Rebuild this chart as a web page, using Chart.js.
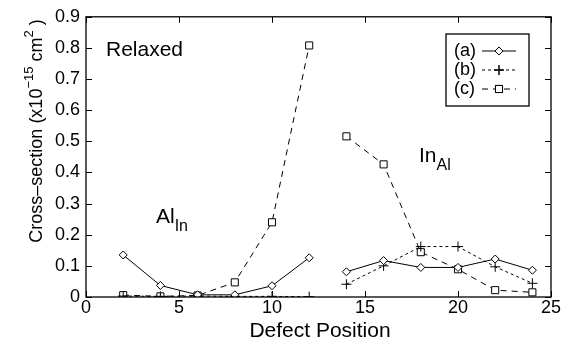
<!DOCTYPE html>
<html>
<head>
<meta charset="utf-8">
<script src="https://cdn.jsdelivr.net/npm/chart.js@4"></script>
<style>
  body { margin: 0; background: #fff; }
  #wrap { width: 572px; height: 345px; }
</style>
</head>
<body>
<div id="wrap"><canvas id="chart" width="572" height="345"></canvas></div>
<script>
// defect positions, null at 13 breaks the line between the two groups
var positions = [2, 4, 6, 8, 10, 12, 13, 14, 16, 18, 20, 22, 24];
var seriesA = [0.135, 0.037, 0.007, 0.007, 0.036, 0.126, null, 0.081, 0.117, 0.095, 0.095, 0.122, 0.086];
var seriesB = [0.003, 0.002, 0.003, 0.002, 0.002, 0.001, null, 0.041, 0.100, 0.162, 0.162, 0.097, 0.044];
var seriesC = [0.006, 0.002, 0.005, 0.047, 0.240, 0.808, null, 0.516, 0.426, 0.144, 0.089, 0.022, 0.015];
var seriesLabels = ['(a)', '(b)', '(c)'];
var xTicks = [0, 5, 10, 15, 20, 25];
var yTicks = [0, 0.1, 0.2, 0.3, 0.4, 0.5, 0.6, 0.7, 0.8, 0.9];

var FONT = '"Liberation Sans", Arial, sans-serif';

function toPoints(vals) {
  return positions.map(function(x, i) { return {x: x, y: vals[i]}; });
}

// ticks inside the frame on all four sides, plus the box itself
var framePlugin = {
  id: 'frame',
  afterDatasetsDraw: function(chart) {
    var ctx = chart.ctx, a = chart.chartArea;
    var xs = chart.scales.x, ys = chart.scales.y;
    ctx.save();
    ctx.strokeStyle = '#000';
    ctx.lineWidth = 1.3;
    ctx.strokeRect(a.left, a.top, a.right - a.left, a.bottom - a.top);
    ctx.lineWidth = 1;
    ctx.beginPath();
    xTicks.forEach(function(v) {
      var px = Math.round(xs.getPixelForValue(v)) + 0.5;
      ctx.moveTo(px, a.bottom); ctx.lineTo(px, a.bottom - 6);
      ctx.moveTo(px, a.top); ctx.lineTo(px, a.top + 6);
    });
    yTicks.forEach(function(v) {
      var py = Math.round(ys.getPixelForValue(v)) + 0.5;
      ctx.moveTo(a.left, py); ctx.lineTo(a.left + 6, py);
      ctx.moveTo(a.right, py); ctx.lineTo(a.right - 6, py);
    });
    ctx.stroke();
    ctx.restore();
  }
};

function subText(ctx, base, sub, x, y, size, subSize, drop) {
  ctx.font = size + 'px ' + FONT;
  ctx.fillText(base, x, y);
  var w = ctx.measureText(base).width;
  ctx.font = subSize + 'px ' + FONT;
  ctx.fillText(sub, x + w, y + drop);
}

// text labels, axis titles and the boxed legend
var textPlugin = {
  id: 'texts',
  afterDraw: function(chart) {
    var ctx = chart.ctx, a = chart.chartArea;
    ctx.save();
    ctx.fillStyle = '#000';
    ctx.textBaseline = 'alphabetic';

    ctx.font = '21px ' + FONT;
    ctx.fillText('Relaxed', 106, 56);

    subText(ctx, 'Al', 'In', 156, 223, 21, 16, 8);
    subText(ctx, 'In', 'Al', 419, 162, 21, 16, 8);

    // x axis title
    ctx.font = '21px ' + FONT;
    ctx.textAlign = 'center';
    ctx.fillText('Defect Position', 320, 337);
    ctx.textAlign = 'left';

    // y axis title
    ctx.translate(42, 131);
    ctx.rotate(-Math.PI / 2);
    var parts = [
      ['Cross\u2013section (x10', 18, 0],
      ['\u221215', 13, -9],
      [' cm', 18, 0],
      ['2', 13, -9],
      [' )', 18, 0]
    ];
    var total = 0;
    parts.forEach(function(p) { ctx.font = p[1] + 'px ' + FONT; total += ctx.measureText(p[0]).width; });
    var cx = -total / 2;
    parts.forEach(function(p) {
      ctx.font = p[1] + 'px ' + FONT;
      ctx.fillText(p[0], cx, p[2]);
      cx += ctx.measureText(p[0]).width;
    });
    ctx.restore();

    // legend
    ctx.save();
    ctx.strokeStyle = '#000';
    ctx.lineWidth = 1.3;
    ctx.strokeRect(446, 34, 83, 72);
    ctx.font = '18px ' + FONT;
    ctx.textBaseline = 'middle';
    ctx.fillStyle = '#000';
    chart.data.datasets.forEach(function(ds, i) {
      var y = 51 + i * 19;
      ctx.fillText(ds.label, 454, y);
      ctx.lineWidth = ds.borderWidth;
      ctx.setLineDash(ds.borderDash || []);
      ctx.beginPath();
      ctx.moveTo(482, y); ctx.lineTo(516, y);
      ctx.stroke();
      ctx.setLineDash([]);
      Chart.helpers.drawPoint(ctx, {
        pointStyle: ds.pointStyle, radius: ds.pointRadius, borderWidth: 1
      }, 499, y);
      ctx.fillStyle = '#fff';
      if (ds.pointStyle !== 'cross') {
        ctx.fill();
      }
      ctx.stroke();
      ctx.fillStyle = '#000';
    });
    ctx.restore();
  }
};

var common = {
  borderColor: '#000',
  pointBorderColor: '#000',
  pointBackgroundColor: '#fff',
  borderWidth: 1,
  pointBorderWidth: 1,
  spanGaps: false,
  tension: 0
};

new Chart(document.getElementById('chart'), {
  type: 'line',
  data: {
    datasets: [
      Object.assign({}, common, {label: seriesLabels[0], data: toPoints(seriesA), pointStyle: 'rectRot', pointRadius: 4}),
      Object.assign({}, common, {label: seriesLabels[1], data: toPoints(seriesB), pointStyle: 'cross', pointRadius: 5, borderDash: [3, 3]}),
      Object.assign({}, common, {label: seriesLabels[2], data: toPoints(seriesC), pointStyle: 'rect', pointRadius: 5, borderDash: [6, 5]})
    ]
  },
  options: {
    responsive: false,
    animation: false,
    layout: { padding: { top: 14, right: 21, left: 0, bottom: 0 } },
    plugins: { legend: { display: false }, tooltip: { enabled: false } },
    scales: {
      x: {
        type: 'linear', min: 0, max: 25,
        afterBuildTicks: function(s) { s.ticks = xTicks.map(function(v) { return {value: v}; }); },
        afterFit: function(s) { s.height = 48; },
        grid: { display: false, drawTicks: false },
        border: { display: false },
        ticks: { color: '#000', font: { family: FONT, size: 18 }, padding: 0, maxRotation: 0 }
      },
      y: {
        min: 0, max: 0.9,
        afterBuildTicks: function(s) { s.ticks = yTicks.map(function(v) { return {value: v}; }); },
        afterFit: function(s) { s.width = 86; },
        grid: { display: false, drawTicks: false },
        border: { display: false },
        ticks: {
          color: '#000', font: { family: FONT, size: 18 }, padding: 6,
          callback: function(v) { return v === 0 ? '0' : v.toFixed(1); }
        }
      }
    }
  },
  plugins: [framePlugin, textPlugin]
});
</script>
</body>
</html>
